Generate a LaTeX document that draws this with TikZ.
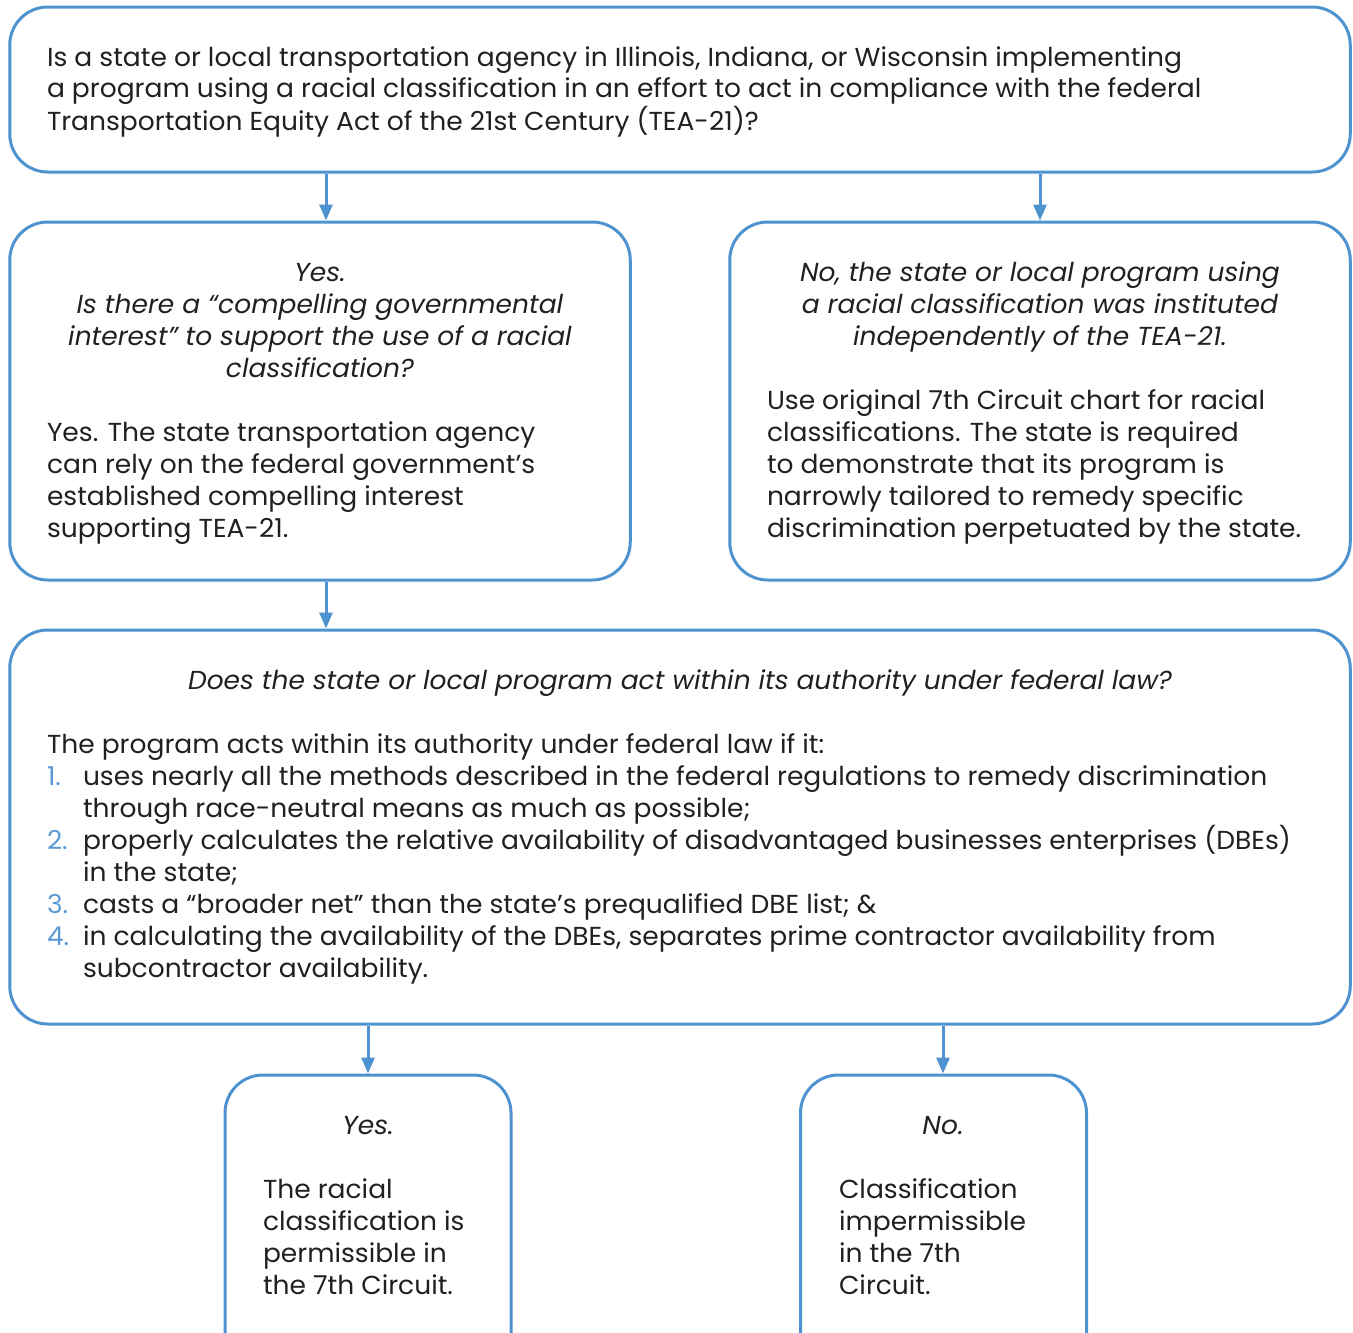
\documentclass[tikz,border=0pt]{standalone}
\usepackage{fontspec}
\setmainfont{Poppins}[FakeStretch=1.02]
\usetikzlibrary{arrows.meta}
\definecolor{lineblue}{HTML}{4F92D0}
\definecolor{numblue}{HTML}{5B9BD5}
\definecolor{txt}{HTML}{231F20}
\newcommand{\fsz}{\fontsize{26}{32}\selectfont}
\newcommand{\numitem}[2]{\par\hangindent=36pt\hangafter=1\noindent\makebox[36pt][l]{\color{numblue}#1}#2}
\begin{document}
\begin{tikzpicture}[x=1pt,y=-1pt,
  box/.style={draw=lineblue, line width=3pt, rounded corners=38pt, rectangle, inner sep=0pt},
  arr/.style={draw=lineblue, line width=3pt, -{Triangle[width=13pt,length=16pt]}},
  txtnode/.style={inner sep=0pt, outer sep=0pt, text=txt, font=\fsz},
]
\useasboundingbox (0,0) rectangle (1353,1333);
% boxes
\node[box, minimum width=1340.5pt, minimum height=165pt] (q1) at (680,89.5) {};
\node[box, minimum width=620.5pt, minimum height=358pt] (yes1) at (320,401) {};
\node[box, minimum width=620.5pt, minimum height=358pt] (no1) at (1040,401) {};
\node[box, minimum width=1340.5pt, minimum height=394pt] (q2) at (680,827) {};
\node[box, minimum width=286pt, minimum height=340pt] (yes2) at (368,1245) {};
\node[box, minimum width=286pt, minimum height=340pt] (no2) at (943.5,1245) {};
% arrows
\draw[arr] (q1.south -| 326,0) -- (yes1.north -| 326,0);
\draw[arr] (q1.south -| 1040,0) -- (no1.north -| 1040,0);
\draw[arr] (yes1.south -| 326,0) -- (q2.north -| 326,0);
\draw[arr] (q2.south -| 368,0) -- (yes2.north -| 368,0);
\draw[arr] (q2.south -| 943,0) -- (no2.north -| 943,0);
% texts
\node[txtnode, anchor=base west] (t1) at (47,66) {\parbox[t]{1290pt}{\fsz
Is a state or local transportation agency in Illinois, Indiana, or Wisconsin implementing\\
a program using a racial classification in an effort to act in compliance with the federal\\
Transportation Equity Act of the 21st Century (TEA-21)?}};
\node[txtnode, anchor=base] (t2a) at (320,281) {\parbox[t]{600pt}{\centering\itshape\fsz
Yes.\\
Is there a “compelling governmental\\
interest” to support the use of a racial\\
classification?}};
\node[txtnode, anchor=base west] (t2b) at (47,441) {\parbox[t]{570pt}{\fsz
Yes. The state transportation agency\\
can rely on the federal government’s\\
established compelling interest\\
supporting TEA-21.}};
\node[txtnode, anchor=base] (t3a) at (1040,281) {\parbox[t]{600pt}{\centering\itshape\fsz
No, the state or local program using\\
a racial classification was instituted\\
independently of the TEA-21.}};
\node[txtnode, anchor=base west] (t3b) at (767,409) {\parbox[t]{570pt}{\fsz
Use original 7th Circuit chart for racial\\
classifications. The state is required\\
to demonstrate that its program is\\
narrowly tailored to remedy specific\\
discrimination perpetuated by the state.}};
\node[txtnode, anchor=base] (t4a) at (680,689) {\parbox[t]{1300pt}{\centering\itshape\fsz
Does the state or local program act within its authority under federal law?}};
\node[txtnode, anchor=base west] (t4b) at (47,753) {\parbox[t]{1290pt}{\fsz\parskip=0pt
\noindent The program acts within its authority under federal law if it:
\numitem{1.}{uses nearly all the methods described in the federal regulations to remedy discrimination\\
through race-neutral means as much as possible;}
\numitem{2.}{properly calculates the relative availability of disadvantaged businesses enterprises (DBEs)\\
in the state;}
\numitem{3.}{casts a “broader net” than the state’s prequalified DBE list; \&}
\numitem{4.}{in calculating the availability of the DBEs, separates prime contractor availability from\\
subcontractor availability.}}};
\node[txtnode, anchor=base] (t5a) at (368,1134) {\itshape Yes.};
\node[txtnode, anchor=base west] (t5b) at (263,1198) {\parbox[t]{240pt}{\fsz
The racial\\
classification is\\
permissible in\\
the 7th Circuit.}};
\node[txtnode, anchor=base] (t6a) at (943,1134) {\itshape No.};
\node[txtnode, anchor=base west] (t6b) at (839,1198) {\parbox[t]{240pt}{\fsz
Classification\\
impermissible\\
in the 7th\\
Circuit.}};
\end{tikzpicture}
\end{document}
